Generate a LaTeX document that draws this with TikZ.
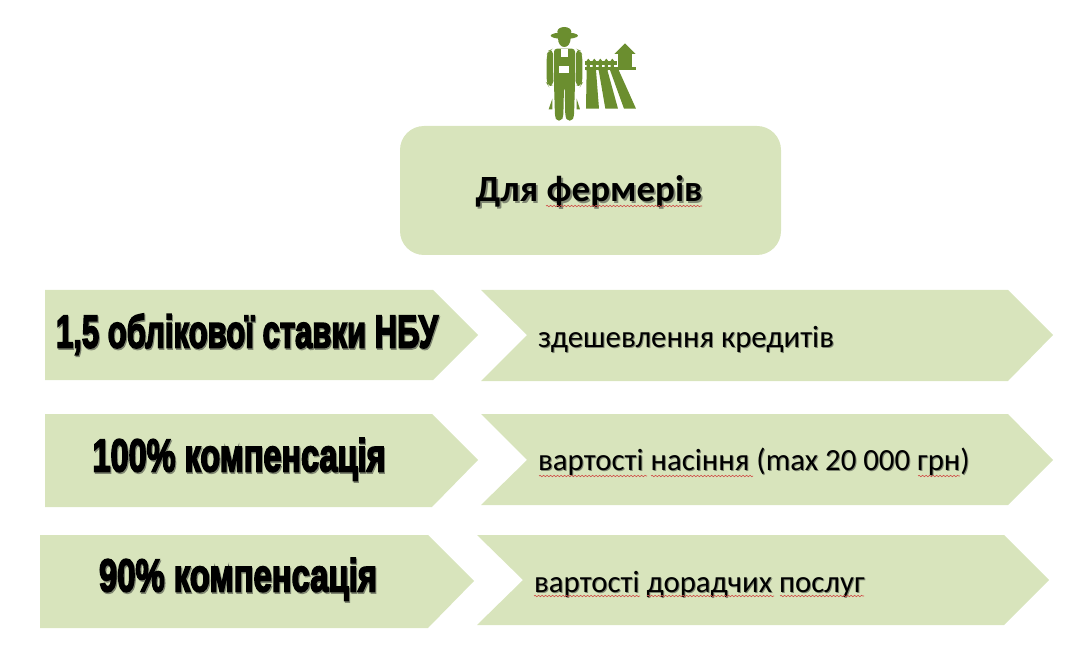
\documentclass[tikz,border=0pt]{standalone}
\usepackage{graphicx}
\usepackage{fontspec}
\setmainfont{Carlito}
\newfontfamily\heavyfont[FakeBold=4]{Liberation Sans Bold}
\usetikzlibrary{decorations.pathmorphing,calc}
\definecolor{shapegreen}{HTML}{D8E4BC}
\definecolor{icongreen}{HTML}{6B8E2F}
\definecolor{wavered}{HTML}{D0504A}
\definecolor{halo}{HTML}{7F8672}
\newcommand{\heavytext}[2]{\resizebox{#1pt}{\height}{\fontsize{46}{52}\selectfont\heavyfont #2}}
% text with its soft drop shadow, as one node's content
\newcommand{\shadowed}[3][1.8pt]{\leavevmode\rlap{\kern#1\raisebox{-#1}{\textcolor{halo}{#3}}}\textcolor{#2}{#3}}
\tikzset{
  x=1pt,y=-1pt,
  panel/.style={fill=shapegreen,draw=none},
  bodytext/.style={inner sep=0pt,anchor=base west,text=black,font=\fontsize{30.8}{36}\selectfont},
  headtext/.style={inner sep=0pt,anchor=base,text=black,font=\fontsize{37}{44}\selectfont\bfseries},
  heavylabel/.style={inner sep=0pt,anchor=center,text=black},
  spell/.style={wavered,line width=.6pt,decorate,decoration={snake,amplitude=.7pt,segment length=3.5pt}},
  iconpart/.style={fill=icongreen,draw=none},
  iconcut/.style={fill=white,draw=none}
}
\begin{document}
\begin{tikzpicture}
\useasboundingbox (0,0) rectangle (1088,647);
% title box
\fill[panel,rounded corners=24pt] (400,126) rectangle (781,255);
% left arrows
\fill[panel] (45,290) -- (433,290) -- (478,335) -- (433,380) -- (45,380) -- cycle;
\fill[panel] (45,414) -- (432,414) -- (478,460) -- (432,507) -- (45,507) -- cycle;
\fill[panel] (40,535) -- (428,535) -- (474,581) -- (428,628) -- (40,628) -- cycle;
% right chevrons
\fill[panel] (481,290) -- (1008,290) -- (1053,335) -- (1008,381) -- (481,381) -- (527,335) -- cycle;
\fill[panel] (481,414) -- (1008,414) -- (1053,460) -- (1008,505) -- (481,505) -- (527,460) -- cycle;
\fill[panel] (477,535) -- (1004,535) -- (1049,580) -- (1004,625) -- (477,625) -- (523,580) -- cycle;
% texts
\node[headtext] (head) at (589,202) {\shadowed{black}{Для фермерів}};
\node[heavylabel] (l1) at (247,335) {\heavytext{382}{\shadowed[1.5pt]{black}{1,5 облікової ставки НБУ}}};
\node[heavylabel] (l2) at (239,460) {\heavytext{293}{\shadowed[1.5pt]{black}{100\% компенсація}}};
\node[heavylabel] (l3) at (238,580) {\heavytext{278}{\shadowed[1.5pt]{black}{90\% компенсація}}};
\node[bodytext] (r1) at (538,348) {\shadowed[1pt]{black}{здешевлення кредитів}};
\node[bodytext] (r2) at (538,470) {\shadowed[1pt]{black}{вартості насіння (max 20 000 грн)}};
\node[bodytext] (r3) at (534,592) {\shadowed[1pt]{black}{вартості дорадчих послуг}};
% spelling underlines
\draw[spell] (546,206) -- (702,206);
\draw[spell] (539,476) -- (647,476);
\draw[spell] (651,476) -- (753,476);
\draw[spell] (918,476) -- (960,476);
\draw[spell] (534,596) -- (640,596);
\draw[spell] (647,596) -- (774,596);
\draw[spell] (780,596) -- (864,596);
% farmer icon
\begin{scope}[shift={(530,20)},x=.3333pt,y=-.3333pt]
  % hat and head
  \fill[iconpart] (103,35) ellipse [x radius=21,y radius=14];
  \fill[iconpart] (103,47) ellipse [x radius=41,y radius=10];
  \fill[iconpart] (84,54) -- (122,54) .. controls (122,72) and (113,81) .. (103,81) .. controls (93,81) and (84,72) .. (84,54) -- cycle;
  % torso and legs
  \fill[iconpart,rounded corners=3pt] (72,86) -- (135,86) -- (135,190) -- (132,290) -- (126,302) -- (112,302) -- (106,290) -- (104,200) -- (102,200) -- (100,290) -- (94,302) -- (80,302) -- (75,290) -- (72,190) -- cycle;
  % arms
  \fill[iconpart,rounded corners=5pt] (69,86) -- (69,135) -- (71,198) -- (55,198) -- (50,190) -- (50,105) -- (56,92) -- cycle;
  \fill[iconpart,rounded corners=5pt] (138,86) -- (138,135) -- (136,198) -- (152,198) -- (157,190) -- (157,105) -- (151,92) -- cycle;
  \fill[iconpart] (56,268) -- (67,236) -- (67,268) -- cycle;
  \fill[iconpart] (150,268) -- (140,236) -- (140,268) -- cycle;
  % overalls cut-outs
  \fill[iconcut] (92,86) rectangle (114,112);
  \fill[iconcut] (88,138) rectangle (118,160);
  % fence
  \foreach \px in {170,188,206,224,242}{
    \fill[iconpart] (\px,122) -- (\px+5,116) -- (\px+10,122) -- (\px+10,152) -- (\px,152) -- cycle;
  }
  \fill[iconpart] (166,124) rectangle (262,134);
  \fill[iconpart] (166,140) rectangle (262,150);
  % field rows
  \fill[iconpart] (170,150) -- (198,150) -- (207,266) -- (168,266) -- cycle;
  \fill[iconpart] (206,150) -- (232,150) -- (264,266) -- (226,266) -- cycle;
  \fill[iconpart] (240,150) -- (266,150) -- (318,266) -- (282,266) -- cycle;
  % house
  \fill[iconpart] (285,70) -- (317,102) -- (253,102) -- cycle;
  \fill[iconpart] (263,100) rectangle (307,142);
  \fill[iconpart] (256,140) rectangle (318,150);
\end{scope}
\end{tikzpicture}
\end{document}
